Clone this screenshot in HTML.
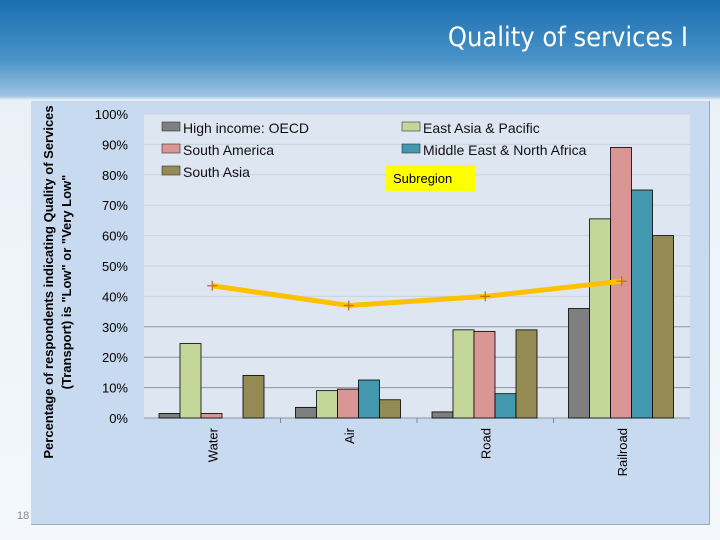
<!DOCTYPE html>
<html><head><meta charset="utf-8"><style>
body{margin:0;width:720px;height:540px;overflow:hidden;font-family:"Liberation Sans",sans-serif;}
#bg{position:absolute;left:0;top:0;width:720px;height:540px;background:linear-gradient(#1a6fb0 0px,#4a93c8 60px,#9ec4e2 96px,#e9f1f8 100px,#f4f8fc 540px);}
#title{position:absolute;right:32px;top:22px;color:#fff;font-size:27px;font-family:"DejaVu Sans Condensed","Liberation Sans",sans-serif;}
#panel{position:absolute;left:31px;top:101px;width:678px;height:423px;background:#c8daef;border-right:1px solid #9aaabb;border-bottom:1px solid #9aaabb;}
#pg{position:absolute;left:17px;top:510px;font-size:11px;color:#888;}
</style></head><body>
<div id="bg"></div>
<div id="title">Quality of services I</div>
<div id="panel"></div>
<div id="pg">18</div>
<svg id="chart" width="720" height="540" style="position:absolute;left:0;top:0" font-family="Liberation Sans, sans-serif"></svg>
<script>
const categories=["Water","Air","Road","Railroad"];
const seriesNames=["High income: OECD","East Asia & Pacific","South America","Middle East & North Africa","South Asia"];
const oecd=[1.5,3.5,2,36];
const eastAsia=[24.5,9,29,65.5];
const southAmerica=[1.5,9.5,28.5,89];
const mena=[0,12.5,8,75];
const southAsia=[14,6,29,60];
const subregion=[43.5,37,40,45];
const yTicks=[0,10,20,30,40,50,60,70,80,90,100];
const colors=["#7f7f7f","#c4d79b","#d99694","#4198af","#948a54"];
const series=[oecd,eastAsia,southAmerica,mena,southAsia];
const svg=document.getElementById('chart');
const NS="http://www.w3.org/2000/svg";
const X0=144,X1=690,Y0=418,Y1=114;
const cw=(X1-X0)/categories.length;
const y=v=>Y0-(v/100)*(Y0-Y1);
const xc=i=>X0+cw*i+cw/2;
function mk(t,a,p){const e=document.createElementNS(NS,t);for(const k in a)e.setAttribute(k,a[k]);(p||svg).appendChild(e);return e;}
let e=mk('rect',{x:X0,y:Y1,width:X1-X0,height:Y0-Y1,fill:'#dde6f1'});

yTicks.forEach(t=>{
 const g=mk('line',{x1:X0,x2:X1,y1:y(t),y2:y(t),stroke:t>=40?'#c9d3df':'#8c96a2','stroke-width':1});
 
 const l=mk('text',{x:128,y:y(t)+5,'text-anchor':'end','font-size':13,fill:'#000'});l.textContent=t+'%';
 
});
for(let i=1;i<categories.length;i++){const t=mk('line',{x1:X0+cw*i,x2:X0+cw*i,y1:Y0,y2:Y0+5,stroke:'#888'});}
const bw=21;
categories.forEach((c,i)=>{
 const gs=X0+cw*i+15;
 series.forEach((s,j)=>{
  if(s[i]<=0)return;
  const b=mk('rect',{x:gs+j*bw,y:y(s[i]),width:bw,height:Y0-y(s[i]),fill:colors[j],stroke:'#000','stroke-width':0.8});
  
 });
 const l=mk('text',{transform:`translate(${xc(i)+5},${428}) rotate(-90)`,'text-anchor':'end','font-size':13});l.textContent=c;
 
});
const pts=subregion.map((v,i)=>xc(i)+','+y(v)).join(' ');
const pl=mk('polyline',{points:pts,fill:'none',stroke:'#ffc000','stroke-width':5,'stroke-linejoin':'round'});

subregion.forEach((v,i)=>{const m=mk('path',{d:`M${xc(i)-5},${y(v)}h10M${xc(i)},${y(v)-5}v10`,stroke:'#c07000','stroke-width':1.2});});
// legend
const lp=[[162,128],[402,128],[162,150],[402,150],[162,172]];
seriesNames.forEach((n,j)=>{
 const r=mk('rect',{x:lp[j][0],y:lp[j][1]-6,width:18,height:9,fill:colors[j],stroke:'#333','stroke-width':0.6});
 
 const t=mk('text',{x:lp[j][0]+21,y:lp[j][1]+5,'font-size':14,fill:'#111'});t.textContent=n;
 
});
const sb=mk('rect',{x:386,y:165,width:89,height:26,fill:'#ffff00'});
const st=mk('text',{x:393,y:183,'font-size':13});st.textContent='Subregion';
const yt=mk('text',{transform:'translate(53,282) rotate(-90)','text-anchor':'middle','font-size':13,'font-weight':'bold'});

const t1=mk('tspan',{x:0,y:0},yt);t1.textContent='Percentage of respondents indicating Quality of Services';
const t2=mk('tspan',{x:0,y:18},yt);t2.textContent='(Transport) is "Low" or "Very Low"';
</script>
</body></html>
